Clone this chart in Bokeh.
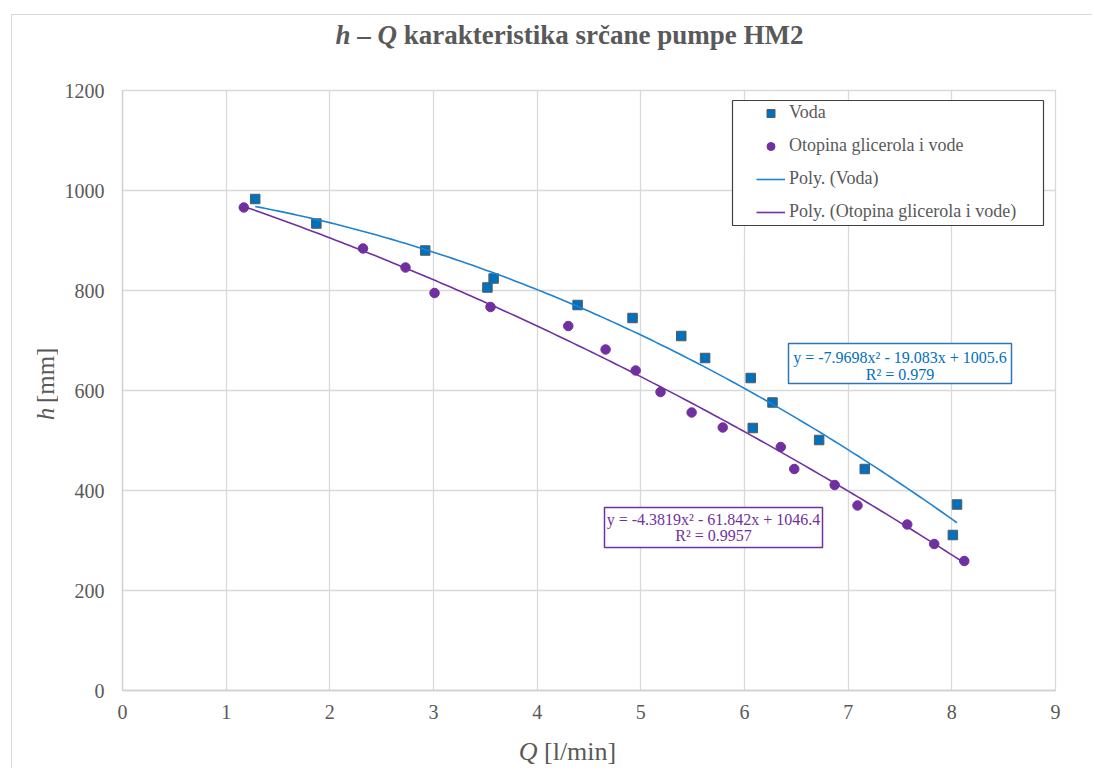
import numpy as np
from math import pi
from bokeh.plotting import figure
from bokeh.layouts import column, row
from bokeh.models import Label, BoxAnnotation, Legend, LegendItem, Range1d
from bokeh.embed import file_html
from bokeh.resources import INLINE

# ---------------- data ----------------
Q_voda = [1.28, 1.87, 2.92, 3.52, 3.58, 4.39, 4.92, 5.39, 5.62, 6.06, 6.08, 6.27, 6.72, 7.16, 8.01, 8.05]
h_voda = [983, 934, 880, 806, 824, 771, 745, 709, 665, 625, 525, 576, 501, 443, 311, 372]

Q_glic = [1.17, 2.32, 2.73, 3.01, 3.55, 4.30, 4.66, 4.95, 5.19, 5.49, 5.79, 6.35, 6.48, 6.87, 7.09, 7.57, 7.83, 8.12]
h_glic = [966, 884, 846, 795, 767, 729, 682, 640, 597, 556, 526, 487, 443, 411, 370, 332, 293, 259]

poly_voda = [-7.9698, -19.083, 1005.6]   # displayed trendline coefficients
poly_glic = [-4.3819, -61.842, 1046.4]

x_ticks = list(range(0, 10))
y_ticks = list(range(0, 1201, 200))

title_parts = ["h", "–", "Q", "karakteristika srčane pumpe HM2"]
ylabel_parts = ["h", "[mm]"]
xlabel_parts = ["Q", "[l/min]"]
eq_voda = ["y = -7.9698x² - 19.083x + 1005.6", "R² = 0.979"]
eq_glic = ["y = -4.3819x² - 61.842x + 1046.4", "R² = 0.9957"]
legend_labels = ["Voda", "Otopina glicerola i vode", "Poly. (Voda)", "Poly. (Otopina glicerola i vode)"]

# ---------------- style ----------------
SERIF = "Liberation Serif"
GRAY = "#595959"
BLUE = "#0070C0"
BLUE_LINE = "#1E82D2"
PURPLE = "#7030A0"
GRID = "#d9d9d9"


def text_panel(w, h):
    """A bare figure whose frame fills its canvas; data units are pixels."""
    f = figure(width=w, height=h, output_backend="svg", toolbar_location=None,
               title=None, x_axis_location=None, y_axis_location=None,
               x_range=Range1d(0, w), y_range=Range1d(0, h),
               min_border=0, min_border_left=0, min_border_right=0,
               min_border_top=0, min_border_bottom=0,
               background_fill_color="white", border_fill_color="white")
    f.outline_line_color = None
    f.xgrid.visible = False
    f.ygrid.visible = False
    return f


# ---------------- main plot ----------------
p = figure(width=1024, height=655, output_backend="svg", toolbar_location=None,
           title=None, x_range=Range1d(0, 9), y_range=Range1d(0, 1200),
           min_border_left=64, min_border_right=27, min_border_top=15, min_border_bottom=40,
           background_fill_color="white", border_fill_color="white")
p.outline_line_color = GRID
p.outline_line_width = 1.3

p.xaxis.ticker = x_ticks
p.yaxis.ticker = y_ticks
for ax in (p.xaxis, p.yaxis):
    ax.axis_line_color = "#cfcfcf"
    ax.axis_line_width = 1.3
    ax.major_tick_line_color = None
    ax.major_tick_out = 0
    ax.major_tick_in = 0
    ax.minor_tick_line_color = None
    ax.minor_tick_out = 0
    ax.minor_tick_in = 0
    ax.major_label_text_font = SERIF
    ax.major_label_text_font_size = "20px"
    ax.major_label_text_color = GRAY
p.xaxis.major_label_standoff = 14
p.yaxis.major_label_standoff = 18
p.grid.grid_line_color = GRID
p.grid.grid_line_width = 1.3

r_sq = p.scatter(Q_voda, h_voda, marker="square", size=9.5, fill_color=BLUE,
                 line_color=GRAY, line_width=1)
r_ci = p.scatter(Q_glic, h_glic, marker="circle", size=9.5, fill_color=PURPLE,
                 line_color=PURPLE, line_width=1)

xv = np.linspace(min(Q_voda), max(Q_voda), 150)
xg = np.linspace(min(Q_glic), max(Q_glic), 150)
r_lv = p.line(xv, np.polyval(poly_voda, xv), line_color=BLUE_LINE, line_width=1.6)
r_lg = p.line(xg, np.polyval(poly_glic, xg), line_color=PURPLE, line_width=1.6)

# legend: framed box + legend items
p.add_layout(BoxAnnotation(left=610, right=921, top=590, bottom=465,
                           left_units="screen", right_units="screen",
                           top_units="screen", bottom_units="screen",
                           fill_color="white", fill_alpha=1.0,
                           line_color="#404040", line_width=1.2, line_alpha=1.0))
legend = Legend(items=[LegendItem(label=legend_labels[0], renderers=[r_sq]),
                       LegendItem(label=legend_labels[1], renderers=[r_ci]),
                       LegendItem(label=legend_labels[2], renderers=[r_lv]),
                       LegendItem(label=legend_labels[3], renderers=[r_lg])],
                location=(629, 463), margin=0, padding=5, spacing=12,
                glyph_width=29, glyph_height=20, label_height=20, label_standoff=4,
                label_text_font=SERIF, label_text_font_size="18px", label_text_color=GRAY,
                border_line_alpha=0, background_fill_alpha=0)
p.add_layout(legend)


def eq_box(left, right, top, bottom, lines, ys, color, border):
    p.add_layout(BoxAnnotation(left=left, right=right, top=top, bottom=bottom,
                               left_units="screen", right_units="screen",
                               top_units="screen", bottom_units="screen",
                               fill_color="white", fill_alpha=1.0,
                               line_color=border, line_width=1.5, line_alpha=1.0))
    for t, yy in zip(lines, ys):
        p.add_layout(Label(x=(left + right) / 2, y=yy, x_units="screen", y_units="screen",
                           text=t, text_align="center", text_baseline="middle",
                           text_font=SERIF, text_font_size="16px", text_color=color))


eq_box(666, 889, 347, 307, eq_voda, [333, 316.5], BLUE, "#2E75B6")
eq_box(482, 700, 183, 143, eq_glic, [171.5, 155], PURPLE, PURPLE)

# ---------------- title panel ----------------
tp = text_panel(1080, 60)
title_x = [323, 344.75, 365, 391.25]
title_style = ["bold italic", "bold", "bold italic", "bold"]
for t, xx, st in zip(title_parts, title_x, title_style):
    tp.add_layout(Label(x=xx, y=41, text=t, text_align="left", text_baseline="middle",
                        text_font=SERIF, text_font_size="27px", text_font_style=st,
                        text_color=GRAY))

# ---------------- y label panel ----------------
yp = text_panel(46, 655)
for t, yy, st in zip(ylabel_parts, [295, 313.75], ["italic", "normal"]):
    yp.add_layout(Label(x=33, y=yy, text=t, angle=pi / 2,
                        text_align="left", text_baseline="middle",
                        text_font=SERIF, text_font_size="25px", text_font_style=st,
                        text_color=GRAY))

# ---------------- x label panel ----------------
xp = text_panel(1070, 38)
for t, xx, st in zip(xlabel_parts, [506.25, 531.5], ["italic", "normal"]):
    xp.add_layout(Label(x=xx, y=17, text=t, text_align="left", text_baseline="middle",
                        text_font=SERIF, text_font_size="26px", text_font_style=st,
                        text_color=GRAY))

layout = column(tp, row(yp, p), xp)
layout.styles = {"margin-left": "11px", "margin-top": "14px",
                 "border-left": "1px solid #d9d9d9", "border-top": "1px solid #d9d9d9"}

open("out.html", "w").write(file_html(layout, INLINE))
